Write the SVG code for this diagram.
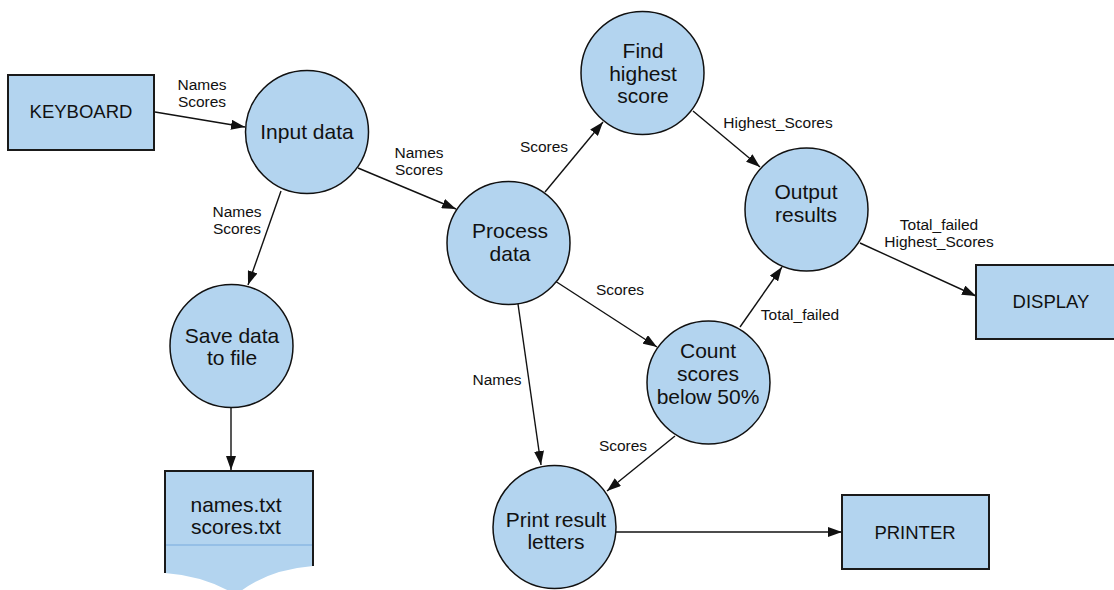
<svg xmlns="http://www.w3.org/2000/svg" width="1114" height="590" viewBox="0 0 1114 590">
  <style>
    .proc { fill: #b3d4ef; stroke: #111; stroke-width: 1.5; }
    .ext { fill: #b3d4ef; stroke: #1a1a1a; stroke-width: 2; }
    .node-text { font-family: "Liberation Sans", Arial, sans-serif; font-size: 21px; fill: #111; text-anchor: middle; }
    .ext-text { font-family: "Liberation Sans", Arial, sans-serif; font-size: 18.5px; fill: #111; text-anchor: middle; }
    .flow { fill: none; stroke: #111; stroke-width: 1.4; marker-end: url(#arrow); }
    .flow-label { font-family: "Liberation Sans", Arial, sans-serif; font-size: 15.5px; fill: #111; text-anchor: middle; }
  </style>
  <defs>
    <marker id="arrow" viewBox="0 0 14 10" refX="14" refY="5" markerWidth="14" markerHeight="10" markerUnits="userSpaceOnUse" orient="auto">
      <path d="M0,0 L14,5 L0,10 z" fill="#111"/>
    </marker>
  </defs>
  <rect width="1114" height="590" fill="#ffffff"/>

  <!-- data flows -->
  <g id="connectors">
    <line class="flow" x1="155" y1="112" x2="245" y2="127"/>
    <line class="flow" x1="281" y1="191" x2="248" y2="285"/>
    <line class="flow" x1="358" y1="168" x2="456" y2="209"/>
    <line class="flow" x1="231" y1="408" x2="231" y2="470"/>
    <line class="flow" x1="545" y1="192" x2="603" y2="122"/>
    <line class="flow" x1="693" y1="111" x2="760" y2="167"/>
    <line class="flow" x1="552" y1="279" x2="657" y2="347"/>
    <line class="flow" x1="518" y1="304" x2="541" y2="465"/>
    <line class="flow" x1="740" y1="327" x2="782" y2="267"/>
    <line class="flow" x1="860" y1="243" x2="976" y2="296"/>
    <line class="flow" x1="675" y1="436" x2="607" y2="491"/>
    <line class="flow" x1="616" y1="532" x2="842" y2="532"/>

    <text class="flow-label" x="202" y="90">Names</text>
    <text class="flow-label" x="202" y="107">Scores</text>
    <text class="flow-label" x="237" y="217">Names</text>
    <text class="flow-label" x="237" y="234">Scores</text>
    <text class="flow-label" x="419" y="158">Names</text>
    <text class="flow-label" x="419" y="175">Scores</text>
    <text class="flow-label" x="544" y="152">Scores</text>
    <text class="flow-label" x="778" y="128">Highest_Scores</text>
    <text class="flow-label" x="620" y="295">Scores</text>
    <text class="flow-label" x="497" y="385">Names</text>
    <text class="flow-label" x="800" y="320">Total_failed</text>
    <text class="flow-label" x="939" y="230">Total_failed</text>
    <text class="flow-label" x="939" y="247">Highest_Scores</text>
    <text class="flow-label" x="623" y="451">Scores</text>
  </g>

  <!-- external entities -->
  <g id="keyboard">
    <rect class="ext" x="8" y="75" width="146" height="75"/>
    <text class="ext-text" x="81" y="118">KEYBOARD</text>
  </g>
  <g id="display">
    <rect class="ext" x="976" y="265" width="147" height="74"/>
    <text class="ext-text" x="1051" y="308">DISPLAY</text>
  </g>
  <g id="printer">
    <rect class="ext" x="842" y="495" width="147" height="74"/>
    <text class="ext-text" x="915" y="539">PRINTER</text>
  </g>

  <!-- processes -->
  <g id="input-data">
    <circle class="proc" cx="307" cy="132" r="61.5"/>
    <text class="node-text" x="307" y="139">Input data</text>
  </g>
  <g id="save-data">
    <circle class="proc" cx="231.5" cy="346" r="61.5"/>
    <text class="node-text" x="232" y="343">Save data</text>
    <text class="node-text" x="232" y="365">to file</text>
  </g>
  <g id="process-data">
    <circle class="proc" cx="508.5" cy="243" r="61.5"/>
    <text class="node-text" x="510" y="238">Process</text>
    <text class="node-text" x="510" y="261">data</text>
  </g>
  <g id="find-highest">
    <circle class="proc" cx="642.5" cy="73" r="61.5"/>
    <text class="node-text" x="643" y="58">Find</text>
    <text class="node-text" x="643" y="81">highest</text>
    <text class="node-text" x="643" y="103">score</text>
  </g>
  <g id="output-results">
    <circle class="proc" cx="806.5" cy="209.5" r="61.5"/>
    <text class="node-text" x="806" y="199">Output</text>
    <text class="node-text" x="806" y="222">results</text>
  </g>
  <g id="count-scores">
    <circle class="proc" cx="708.5" cy="382.5" r="61.5"/>
    <text class="node-text" x="708" y="358">Count</text>
    <text class="node-text" x="708" y="381">scores</text>
    <text class="node-text" x="708" y="404">below 50%</text>
  </g>
  <g id="print-letters">
    <circle class="proc" cx="554.5" cy="527" r="61.5"/>
    <text class="node-text" x="556" y="527">Print result</text>
    <text class="node-text" x="556" y="549">letters</text>
  </g>

  <!-- data store: document with wavy bottom -->
  <g id="score-files">
    <path d="M165,471 L313,471 L313,566 Q265,570 236,595 Q205,576 165,573 Z" fill="#b3d4ef"/>
    <line x1="165" y1="545" x2="313" y2="545" stroke="#8bb8e3" stroke-width="1.5"/>
    <path d="M165,573 L165,471 L313,471 L313,566" fill="none" stroke="#1a1a1a" stroke-width="2"/>
    <text class="node-text" x="236" y="512">names.txt</text>
    <text class="node-text" x="236" y="534">scores.txt</text>
  </g>
</svg>
